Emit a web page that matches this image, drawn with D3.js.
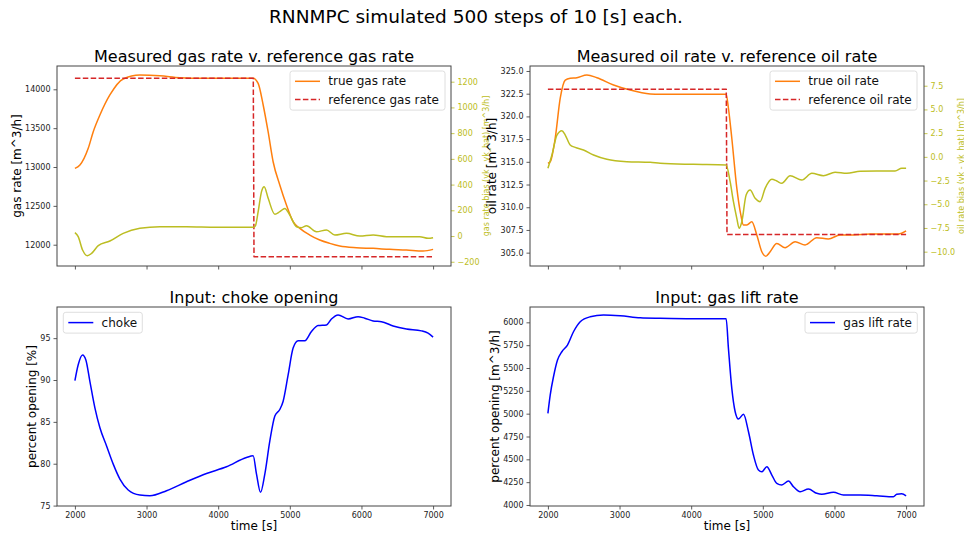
<!DOCTYPE html>
<html>
<head>
<meta charset="utf-8">
<script src="https://cdn.jsdelivr.net/npm/d3@7"></script>
<style>
  body { margin: 0; background: #fff; }
  svg { display: block; font-family: "DejaVu Sans", sans-serif; }
</style>
</head>
<body>
<svg id="fig" width="964" height="537"></svg>
<script>
// ---- time axis ----
const timeTicks = [2000, 3000, 4000, 5000, 6000, 7000];

// ---- gas rate panel ----
const gasTrueT = [2000, 2070, 2186, 2256, 2349, 2488, 2674, 2907, 3186, 3465, 3800, 4200, 4488, 4558, 4628, 4697, 4767, 4860, 4953, 5046, 5140, 5279, 5418, 5558, 5697, 5930, 6163, 6395, 6628, 6860, 7000];
const gasTrueV = [12983, 13025, 13240, 13454, 13669, 13927, 14133, 14184, 14175, 14150, 14142, 14142, 14142, 14077, 13798, 13454, 13068, 12768, 12510, 12296, 12210, 12124, 12060, 12017, 11983, 11961, 11953, 11940, 11931, 11918, 11940];
const gasRefT = [2000, 4490, 4500, 7000];
const gasRefV = [14142, 14142, 11846, 11846];
const gasBiasT = [2000, 2046, 2107, 2172, 2233, 2326, 2488, 2674, 2907, 3186, 3558, 3977, 4488, 4520, 4558, 4605, 4642, 4698, 4791, 4860, 4930, 5000, 5093, 5163, 5233, 5372, 5512, 5628, 5791, 5977, 6163, 6349, 6628, 6814, 6930, 7000];
const gasBiasV = [26, -5, -109, -153, -135, -75, -39, 21, 60, 72, 72, 68, 68, 80, 189, 345, 383, 293, 169, 189, 215, 163, 72, 65, 80, 33, 47, 8, 21, 0, 8, -5, -5, -5, -18, -13];
const gasTicks = [12000, 12500, 13000, 13500, 14000];
const gasBiasTicks = [-200, 0, 200, 400, 600, 800, 1000, 1200];

// ---- oil rate panel ----
const oilTrueT = [2000, 2032, 2102, 2172, 2242, 2311, 2405, 2544, 2684, 2916, 3148, 3428, 3567, 4032, 4488, 4520, 4567, 4637, 4693, 4729, 4777, 4846, 4916, 4986, 5042, 5102, 5195, 5311, 5451, 5590, 5753, 5915, 6078, 6264, 6497, 6730, 6892, 7000];
const oilTrueV = [314.84, 315.0, 317.6, 322.0, 324.0, 324.2, 324.26, 324.56, 324.26, 323.46, 322.9, 322.47, 322.43, 322.43, 322.43, 320.9, 317.6, 312.1, 309.15, 308.05, 308.05, 308.4, 306.95, 305.1, 304.6, 305.1, 306.0, 305.55, 306.2, 305.85, 306.65, 306.5, 306.95, 306.95, 307.05, 307.05, 307.05, 307.4];
const oilRefT = [2000, 4490, 4500, 7000];
const oilRefV = [323.0, 323.0, 307.0, 307.0];
const oilBiasT = [2000, 2056, 2126, 2195, 2242, 2311, 2381, 2497, 2637, 2823, 3102, 3428, 3567, 4032, 4488, 4544, 4590, 4637, 4669, 4707, 4767, 4823, 4893, 4962, 5032, 5126, 5195, 5265, 5381, 5544, 5684, 5846, 6009, 6172, 6358, 6590, 6846, 6939, 7000];
const oilBiasV = [-1.21, 0.19, 2.3, 2.76, 2.3, 1.25, 1.0, 0.72, 0.19, -0.26, -0.51, -0.58, -0.68, -0.79, -0.86, -2.62, -4.73, -6.48, -7.53, -6.84, -4.02, -3.5, -4.37, -4.73, -3.32, -2.37, -2.55, -2.79, -1.99, -2.44, -1.74, -1.99, -1.63, -1.74, -1.53, -1.49, -1.49, -1.2, -1.2];
const oilTicks = [305.0, 307.5, 310.0, 312.5, 315.0, 317.5, 320.0, 322.5, 325.0];
const oilBiasTicks = [-10.0, -7.5, -5.0, -2.5, 0.0, 2.5, 5.0, 7.5];

// ---- choke input ----
const chokeT = [2000, 2046, 2107, 2153, 2209, 2279, 2349, 2442, 2535, 2628, 2744, 2907, 3047, 3279, 3558, 3837, 4116, 4395, 4488, 4535, 4591, 4651, 4721, 4791, 4860, 4907, 4977, 5046, 5116, 5209, 5302, 5395, 5512, 5581, 5674, 5814, 5953, 6046, 6163, 6279, 6442, 6628, 6837, 6930, 7000];
const chokeV = [89.93, 91.83, 93.0, 92.4, 89.84, 86.68, 84.3, 82.12, 79.95, 78.17, 76.86, 76.26, 76.18, 76.78, 77.85, 78.84, 79.63, 80.74, 80.94, 78.76, 76.58, 78.76, 82.72, 85.69, 86.48, 87.47, 90.64, 93.81, 94.68, 94.68, 95.79, 96.5, 96.58, 97.29, 97.77, 97.29, 97.57, 97.38, 97.06, 96.97, 96.46, 96.1, 95.87, 95.59, 95.12];
const chokeTicks = [75, 80, 85, 90, 95];

// ---- gas lift input ----
const liftT = [2000, 2032, 2078, 2134, 2195, 2273, 2357, 2451, 2590, 2776, 3009, 3288, 3567, 4032, 4488, 4520, 4567, 4614, 4660, 4730, 4800, 4869, 4939, 4986, 5056, 5126, 5195, 5265, 5358, 5428, 5521, 5637, 5753, 5823, 5986, 6125, 6358, 6590, 6823, 6869, 6939, 7000];
const liftV = [5004, 5204, 5404, 5587, 5678, 5751, 5897, 6007, 6061, 6080, 6072, 6050, 6044, 6040, 6038, 5715, 5277, 5021, 4941, 4993, 4802, 4547, 4383, 4364, 4419, 4328, 4237, 4219, 4262, 4200, 4145, 4175, 4128, 4117, 4139, 4109, 4109, 4101, 4090, 4117, 4123, 4101];
const liftTicks = [4000, 4250, 4500, 4750, 5000, 5250, 5500, 5750, 6000];

// ---- styling ----
const C_ORANGE = "#ff7f0e", C_RED = "#d62728", C_OLIVE = "#bcbd22", C_BLUE = "#0000ff";
const TICK_FONT = 8, LABEL_FONT = 12, TITLE_FONT = 16, LEGEND_FONT = 12;

const svg = d3.select("#fig");

svg.append("text")
  .attr("x", 476).attr("y", 23)
  .attr("text-anchor", "middle")
  .attr("font-size", 18.5)
  .attr("fill", "#000")
  .text("RNNMPC simulated 500 steps of 10 [s] each.");

const zip = (ts, vs) => ts.map((t, i) => [t, vs[i]]);

function makePanel(box, yDomain, opts) {
  const x = d3.scaleLinear().domain([1750, 7250]).range([box.x0, box.x1]);
  const y = d3.scaleLinear().domain(yDomain).range([box.y1, box.y0]);
  const g = svg.append("g");

  // x axis
  const xa = g.append("g").attr("transform", `translate(0,${box.y1})`)
    .call(d3.axisBottom(x).tickValues(timeTicks).tickSize(3.5).tickPadding(3)
      .tickFormat(opts.xLabels ? d3.format("d") : () => ""));
  // y axis
  const ya = g.append("g").attr("transform", `translate(${box.x0},0)`)
    .call(d3.axisLeft(y).tickValues(opts.yTicks).tickSize(3.5).tickPadding(3)
      .tickFormat(opts.yFormat));
  [xa, ya].forEach(a => {
    a.select(".domain").remove();
    a.selectAll("line").attr("stroke", "#333").attr("stroke-width", 0.8);
    a.selectAll("text").attr("font-size", TICK_FONT).attr("fill", "#222")
      .attr("font-family", "DejaVu Sans, sans-serif");
  });

  // title
  g.append("text")
    .attr("x", (box.x0 + box.x1) / 2).attr("y", box.y0 - 4.5)
    .attr("text-anchor", "middle").attr("font-size", TITLE_FONT)
    .text(opts.title);

  if (opts.xTitle) {
    g.append("text")
      .attr("x", (box.x0 + box.x1) / 2).attr("y", box.y1 + 24)
      .attr("text-anchor", "middle").attr("font-size", LABEL_FONT)
      .text(opts.xTitle);
  }
  g.append("text")
    .attr("transform", `translate(${opts.yTitleX},${(box.y0 + box.y1) / 2}) rotate(-90)`)
    .attr("text-anchor", "middle").attr("dominant-baseline", "central")
    .attr("font-size", LABEL_FONT)
    .text(opts.yTitle);

  const clipId = "clip" + Math.round(box.x0) + "_" + Math.round(box.y0);
  svg.append("clipPath").attr("id", clipId).append("rect")
    .attr("x", box.x0).attr("y", box.y0)
    .attr("width", box.x1 - box.x0).attr("height", box.y1 - box.y0);
  const plot = g.append("g").attr("clip-path", `url(#${clipId})`);

  return { x, y, g, plot, box };
}

function drawLine(panel, yScale, pts, color, dashed, smooth) {
  const line = d3.line()
    .x(d => panel.x(d[0])).y(d => yScale(d[1]))
    .curve(smooth ? d3.curveMonotoneX : d3.curveLinear);
  panel.plot.append("path")
    .datum(pts)
    .attr("fill", "none")
    .attr("stroke", color)
    .attr("stroke-width", 1.5)
    .attr("stroke-dasharray", dashed ? "5.5,2.4" : null)
    .attr("stroke-linejoin", "round")
    .attr("d", line);
}

function rightAxis(panel, domain, ticks, fmt, label, labelX) {
  const y2 = d3.scaleLinear().domain(domain).range([panel.box.y1, panel.box.y0]);
  const a = panel.g.append("g").attr("transform", `translate(${panel.box.x1},0)`)
    .call(d3.axisRight(y2).tickValues(ticks).tickSize(3.5).tickPadding(3).tickFormat(fmt));
  a.select(".domain").remove();
  a.selectAll("line").attr("stroke", C_OLIVE).attr("stroke-width", 0.8);
  a.selectAll("text").attr("font-size", TICK_FONT).attr("fill", C_OLIVE)
    .attr("font-family", "DejaVu Sans, sans-serif");
  panel.g.append("text")
    .attr("transform", `translate(${labelX},${(panel.box.y0 + panel.box.y1) / 2}) rotate(-90)`)
    .attr("text-anchor", "middle").attr("dominant-baseline", "central")
    .attr("font-size", 8).attr("fill", C_OLIVE)
    .text(label);
  return y2;
}

function frame(panel) {
  const b = panel.box;
  panel.g.append("rect")
    .attr("x", b.x0).attr("y", b.y0)
    .attr("width", b.x1 - b.x0).attr("height", b.y1 - b.y0)
    .attr("fill", "none").attr("stroke", "#444").attr("stroke-width", 1);
}

function legend(panel, x0, y0, w, entries) {
  const rowH = 18.3;
  const h = entries.length * rowH + 2.5;
  const lg = panel.g.append("g");
  lg.append("rect")
    .attr("x", x0).attr("y", y0).attr("width", w).attr("height", h)
    .attr("rx", 2.5).attr("fill", "#fff").attr("fill-opacity", 0.8)
    .attr("stroke", "#d6d6d6").attr("stroke-width", 0.8);
  entries.forEach((e, i) => {
    const cy = y0 + 10.3 + i * rowH;
    lg.append("line")
      .attr("x1", x0 + 5).attr("x2", x0 + 30).attr("y1", cy).attr("y2", cy)
      .attr("stroke", e.color).attr("stroke-width", 1.5)
      .attr("stroke-dasharray", e.dashed ? "5.5,2.4" : null);
    lg.append("text")
      .attr("x", x0 + 38.3).attr("y", cy).attr("dominant-baseline", "central")
      .attr("font-size", LEGEND_FONT).attr("fill", "#111")
      .text(e.label);
  });
}

const f0 = d3.format("d");
const f1 = d3.format(".1f");

// ---- top-left: gas rate ----
const p1 = makePanel({ x0: 57, x1: 451, y0: 66, y1: 266 }, [11726, 14300], {
  title: "Measured gas rate v. reference gas rate",
  yTicks: gasTicks, yFormat: f0, yTitle: "gas rate [m^3/h]", yTitleX: 17, xLabels: false
});
const p1r = rightAxis(p1, [-233, 1322], gasBiasTicks, f0,
  "gas rate bias (yk - yk_hat) [m^3/h]", 486.5);
drawLine(p1, p1.y, zip(gasTrueT, gasTrueV), C_ORANGE, false, true);
drawLine(p1, p1.y, zip(gasRefT, gasRefV), C_RED, true, false);
drawLine(p1, p1r, zip(gasBiasT, gasBiasV), C_OLIVE, false, true);
frame(p1);
legend(p1, 290, 71, 155, [
  { label: "true gas rate", color: C_ORANGE },
  { label: "reference gas rate", color: C_RED, dashed: true }
]);

// ---- top-right: oil rate ----
const p2 = makePanel({ x0: 530, x1: 924, y0: 66, y1: 266 }, [303.53, 325.55], {
  title: "Measured oil rate v. reference oil rate",
  yTicks: oilTicks, yFormat: f1, yTitle: "oil rate [m^3/h]", yTitleX: 492, xLabels: false
});
const p2r = rightAxis(p2, [-11.51, 9.58], oilBiasTicks, f1,
  "oil rate bias (yk - yk_hat) [m^3/h]", 961);
drawLine(p2, p2.y, zip(oilTrueT, oilTrueV), C_ORANGE, false, true);
drawLine(p2, p2.y, zip(oilRefT, oilRefV), C_RED, true, false);
drawLine(p2, p2r, zip(oilBiasT, oilBiasV), C_OLIVE, false, true);
frame(p2);
legend(p2, 770, 71, 147, [
  { label: "true oil rate", color: C_ORANGE },
  { label: "reference oil rate", color: C_RED, dashed: true }
]);

// ---- bottom-left: choke ----
const p3 = makePanel({ x0: 57, x1: 451, y0: 307, y1: 506 }, [74.95, 98.72], {
  title: "Input: choke opening",
  yTicks: chokeTicks, yFormat: f0, yTitle: "percent opening [%]", yTitleX: 32,
  xLabels: true, xTitle: "time [s]"
});
drawLine(p3, p3.y, zip(chokeT, chokeV), C_BLUE, false, true);
frame(p3);
legend(p3, 63.3, 312.3, 79, [{ label: "choke", color: C_BLUE }]);

// ---- bottom-right: gas lift ----
const p4 = makePanel({ x0: 530, x1: 924, y0: 307, y1: 506 }, [3989, 6168], {
  title: "Input: gas lift rate",
  yTicks: liftTicks, yFormat: f0, yTitle: "percent opening [m^3/h]", yTitleX: 495,
  xLabels: true, xTitle: "time [s]"
});
drawLine(p4, p4.y, zip(liftT, liftV), C_BLUE, false, true);
frame(p4);
legend(p4, 805, 312.3, 112.3, [{ label: "gas lift rate", color: C_BLUE }]);
</script>
</body>
</html>
